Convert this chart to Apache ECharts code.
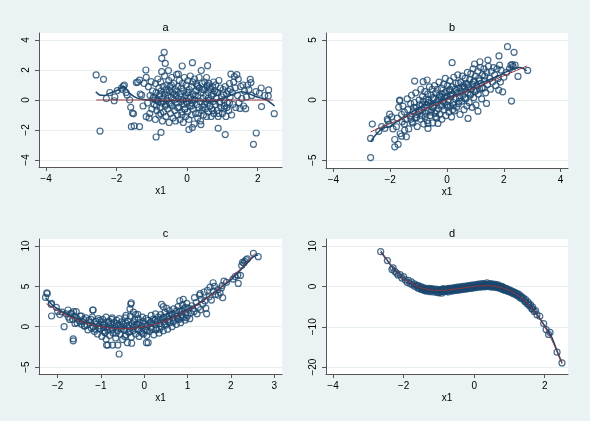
<!DOCTYPE html>
<html>
<head>
<meta charset="utf-8">
<script src="https://cdn.jsdelivr.net/npm/echarts@6/dist/echarts.min.js"></script>
<style>
  html, body { margin: 0; padding: 0; background: #eaf2f3; }
  #chart { width: 590px; height: 421px; }
</style>
</head>
<body>
<div id="chart"></div>
<script>
// ---- panel a : y unrelated to x1 ----
const aPoints = [
  [-2.58,1.67],[-2.37,1.38],[-2.47,-2.07],[-2.29,0.1],[-2.19,0.5],[-2.07,-0.05],[-2.05,0.2],[-1.98,0.63],[-1.86,0.8],[-1.81,0.93],
  [-1.78,1.0],[-1.84,0.7],[-1.70,0.33],[-1.73,0.5],[-1.63,0.0],[-1.60,-0.49],[-1.55,-0.87],[-1.52,-0.92],[-1.58,-1.78],[-1.50,-1.73],
  [-1.35,-1.78],[-1.44,1.16],[-1.35,1.33],[-1.40,1.2],[-1.29,0.33],[-1.33,0.4],[-1.25,-0.4],[-1.17,2.0],[-1.16,1.51],[-1.22,1.1],
  [-1.1,0.89],[-1.16,-1.11],[-1.08,-1.2],[-1.02,1.22],[-1.05,0.3],[-1.12,-0.2],[-1.0,-0.6],[-1.06,-0.9],[-0.98,0.6],[-0.88,-2.47],
  [-0.74,-2.16],[-0.65,3.18],[-0.72,2.78],[-0.62,2.44],[-0.72,1.89],[-0.53,1.96],
  [-0.95,0.2],[-0.93,-0.3],[-0.9,1.1],[-0.9,-1.3],[-0.88,0.5],[-0.86,-0.7],[-0.85,0.0],[-0.83,1.4],[-0.82,-0.1],[-0.8,0.8],
  [-0.8,-1.0],[-0.78,0.3],[-0.76,-0.5],[-0.75,1.2],[-0.74,0.6],[-0.72,-0.2],[-0.7,-1.4],[-0.7,0.1],[-0.68,0.9],[-0.67,-0.8],
  [-0.65,0.4],[-0.64,1.6],[-0.62,-0.4],[-0.6,0.7],[-0.6,-1.1],[-0.58,0.0],[-0.57,1.0],[-0.55,-0.6],[-0.54,0.3],[-0.52,1.3],
  [-0.51,-1.5],[-0.5,-0.2],[-0.5,0.6],
  [-0.48,0.9],[-0.47,-0.9],[-0.45,0.2],[-0.44,1.5],[-0.42,-0.4],[-0.41,0.5],[-0.4,-1.2],[-0.38,1.1],[-0.37,0.0],[-0.35,-0.7],
  [-0.34,0.7],[-0.33,-1.4],[-0.31,0.3],[-0.3,1.7],[-0.29,-0.2],[-0.27,-1.0],[-0.26,0.9],[-0.25,0.1],[-0.23,-0.5],[-0.22,1.3],
  [-0.2,-1.3],[-0.19,0.4],[-0.18,-0.1],[-0.16,0.8],[-0.15,-0.8],[-0.14,1.1],[-0.12,0.0],[-0.11,-1.5],[-0.1,0.6],[-0.09,-0.3],
  [-0.08,1.5],[-0.06,-0.6],[-0.05,0.3],[-0.04,-1.1],[-0.03,1.0],[-0.02,-0.1],[-0.01,0.5],
  [0.01,-0.8],[0.02,1.3],[0.04,0.1],[0.05,-1.3],[0.06,0.7],[0.08,-0.4],[0.09,1.6],[0.1,0.2],[0.12,-1.0],[0.13,0.9],
  [0.14,-0.2],[0.16,1.2],[0.17,-0.6],[0.18,0.4],[0.2,-1.6],[0.21,1.4],[0.22,0.0],[0.24,-0.9],[0.25,0.6],[0.27,-0.3],
  [0.28,1.0],[0.3,-1.2],[0.31,0.3],[0.33,-0.5],[0.34,1.5],[0.35,0.8],[0.37,-0.1],[0.38,-1.4],[0.4,0.5],[0.42,-0.7],
  [0.43,1.1],[0.45,0.1],[0.46,-1.0],[0.48,0.7],[0.49,-0.3],
  [0.5,1.2],[0.52,-0.6],[0.53,0.3],[0.55,-1.1],[0.56,0.9],[0.57,1.0],[0.58,-0.2],[0.6,0.5],[0.61,-0.8],[0.62,1.1],
  [0.63,0.0],[0.65,-0.4],[0.66,0.7],[0.68,-1.1],[0.69,0.3],[0.7,-0.6],[0.72,0.9],[0.73,-0.1],[0.75,0.4],[0.76,-0.9],
  [0.78,0.6],[0.8,-0.3],[0.81,1.0],[0.83,0.1],[0.85,-0.7],[0.87,0.5],[0.88,-1.1],[0.9,1.3],[0.92,-0.2],[0.94,0.8],
  [0.96,-0.5],[0.98,0.2],
  [1.0,-0.9],[1.02,0.7],[1.04,0.0],[1.06,-0.4],[1.08,0.9],[1.1,-1.1],[1.12,0.4],[1.14,-0.2],[1.16,0.6],[1.18,-0.7],
  [1.2,1.1],[1.22,0.2],[1.24,1.73],[1.26,-1.0],[1.28,0.5],[1.3,-0.3],[1.32,1.2],[1.34,1.56],[1.36,0.8],[1.38,-0.5],
  [1.41,1.69],[1.43,0.3],[1.45,1.4],[1.47,-0.2],[1.5,-0.56],[1.52,0.9],[1.55,0.1],[1.58,1.0],[1.6,-0.4],[1.63,0.6],
  [1.66,-0.58],[1.68,0.2],[1.72,1.0],[1.75,0.7],[1.79,1.38],[1.81,1.16],[1.83,0.3],
  [1.95,0.56],[2.10,0.8],[2.31,0.67],[2.11,-0.44],[2.30,0.27],[2.47,-0.91],[1.88,-2.96],[1.96,-2.2],[2.05,0.45],[2.2,0.3],
  [-0.14,2.27],[0.15,2.49],[0.40,1.96],[0.58,2.29],[-0.25,1.73],[0.05,-1.97],[0.15,-1.84],[0.39,-1.64],[0.88,-1.89],[1.08,-2.31],
  [-0.97,0.1],[-0.87,-0.4],[-0.77,0.4],[-0.67,-0.1],[-0.57,0.5],[-0.47,-0.3],[-0.37,0.4],[-0.27,-0.5],[-0.17,0.2],[-0.07,-0.6],
  [0.03,0.5],[0.13,-0.4],[0.23,0.3],[0.33,-0.9],[0.43,0.7],[0.53,-0.1],[0.63,0.8],[0.73,-0.7],[0.83,0.5],[0.93,-0.1],
  [1.03,0.4],[1.13,-0.5],[1.23,0.7],[-0.9,0.0],[-0.6,-0.3],[-0.3,0.6],[0.0,-0.2],[0.3,0.9],[0.6,0.1],[0.9,-0.9],
  [1.2,-0.2],[-0.45,1.0],[-0.15,-1.0],[0.15,0.0],[0.45,-0.5],[0.75,1.2],[1.05,-0.6],[-0.75,-0.9],[0.55,1.5],[0.25,1.1]
];
const aLowess = [
  [-2.59,0.55],[-2.48,0.33],[-2.35,0.3],[-2.2,0.44],[-1.96,0.67],[-1.79,0.89],[-1.63,0.44],[-1.4,0.11],[-1.11,0.0],
  [-0.77,-0.07],[-0.4,-0.05],[0.0,-0.1],[0.3,-0.05],[0.64,-0.1],[1.02,0.11],[1.35,0.44],[1.54,0.55],[1.73,0.44],
  [1.96,0.22],[2.25,0.0],[2.48,-0.4]
];
const aTrue = [[-2.58,0],[2.44,0]];
const aXTicks = [-4,-2,0,2];
const aYTicks = [-4,-2,0,2,4];

// ---- panel b : linear ----
const bPoints = [
  [-2.69,-4.78],[-2.69,-3.19],[-2.63,-2.0],[-2.19,-2.36],[-2.04,-2.0],[-1.84,-3.89],[-1.72,-3.69],[-1.84,-3.28],[-1.66,0.0],
  [-1.14,1.58],[-0.84,1.53],[-0.70,1.67],[0.18,3.11],[0.74,-1.53],[1.09,-0.92],[1.39,-0.28],[2.13,4.44],[2.36,3.97],
  [1.83,3.67],[1.44,3.33],[1.16,3.19],[0.97,3.0],[2.27,-0.08],[2.5,1.97],[2.84,2.47],[2.33,2.78],[1.82,0.83],[1.96,0.69],
  [2.25,2.9],[2.3,2.95],[2.2,2.6],[2.1,2.3],[2.0,1.9],[1.9,2.5],[2.4,2.9],
  [-2.02,-1.17],[-2.08,-1.72],[-1.78,-2.22],[-1.49,-2.5],[-1.43,-3.06],[-1.67,-0.06],[-1.23,-1.81],[-1.07,-1.44],
  [-0.67,-1.94],[-0.67,-2.36],[-0.32,-1.94],
  [-2.4,-2.6],[-2.3,-2.2],[-2.1,-1.6],[-1.95,-1.4],[-1.9,-2.4],[-1.75,-1.5],[-1.7,-0.6],[-1.65,-2.8],[-1.6,-3.0],[-1.58,-1.8],
  [-1.6,-1.2],[-1.55,-0.5],[-1.5,-2.0],[-1.5,-1.0],[-1.45,-1.6],[-1.4,0.1],[-1.38,-0.8],[-1.35,-2.4],[-1.3,-1.3],[-1.28,-0.3],
  [-1.25,0.4],[-1.2,-1.9],[-1.18,-0.9],[-1.15,-0.2],[-1.12,-1.5],[-1.1,0.6],[-1.08,-0.6],[-1.05,-2.2],[-1.0,-1.0],[-0.98,0.0],
  [-0.96,-0.4],[-0.94,-1.6],[-0.92,0.9],[-0.9,-0.8],[-0.88,-1.3],[-0.86,0.3],[-0.84,-0.1],[-0.82,-2.0],[-0.8,-0.6],[-0.78,0.7],
  [-0.76,-1.1],[-0.74,0.1],[-0.72,-0.4],[-0.7,-1.7],[-0.68,0.5],[-0.66,-0.9],[-0.64,0.0],[-0.62,1.1],[-0.6,-1.3],[-0.58,-0.3],
  [-0.56,0.4],[-0.54,-0.8],[-0.52,0.9],[-0.5,-1.9],[-0.48,0.2],[-0.46,-0.5],[-0.44,1.2],[-0.42,-1.1],[-0.4,0.6],[-0.38,-0.2],
  [-0.36,-1.5],[-0.34,0.9],[-0.32,0.0],[-0.3,-0.7],[-0.28,1.5],[-0.26,-1.2],[-0.24,0.3],[-0.22,-0.4],[-0.2,1.0],[-0.18,-1.6],
  [-0.16,0.5],[-0.14,-0.1],[-0.12,1.3],[-0.1,-0.8],[-0.08,0.2],[-0.06,1.8],[-0.04,-1.3],[-0.02,0.7],[0.0,-0.4],[0.02,1.2],
  [0.04,0.0],[0.06,-1.0],[0.08,0.8],[0.1,1.6],[0.12,-0.5],[0.14,0.3],[0.16,-1.4],[0.18,1.1],[0.2,0.5],[0.22,-0.2],
  [0.24,1.9],[0.26,-0.9],[0.28,0.9],[0.3,0.1],[0.32,1.4],[0.34,-0.6],[0.36,0.6],[0.38,2.1],[0.4,-0.3],[0.42,1.0],
  [0.44,0.2],[0.46,-1.2],[0.48,1.5],[0.5,0.7],[0.52,-0.1],[0.54,2.0],[0.56,0.4],[0.58,1.2],[0.6,-0.8],[0.62,0.9],
  [0.64,1.8],[0.66,0.1],[0.68,1.4],[0.7,-0.5],[0.72,2.3],[0.74,0.6],[0.76,1.1],[0.78,-0.2],[0.8,1.7],[0.82,0.4],
  [0.84,2.2],[0.86,0.9],[0.88,-0.6],[0.9,1.3],[0.92,2.6],[0.94,0.2],[0.96,1.6],[0.98,0.7],[1.0,2.0],[1.02,-0.4],
  [1.05,1.2],[1.08,2.4],[1.1,0.5],[1.12,1.8],[1.15,0.9],[1.18,2.7],[1.2,1.4],[1.22,0.1],[1.25,2.1],[1.28,1.0],
  [1.3,2.6],[1.33,1.6],[1.36,0.6],[1.4,2.3],[1.43,1.3],[1.46,2.8],[1.5,1.8],[1.53,0.9],[1.56,2.4],[1.6,1.5],
  [1.64,2.7],[1.68,2.1],[1.72,1.2],[1.76,2.6],[1.8,1.8],[1.85,2.9],[1.88,1.5],
  [-0.97,-0.9],[-0.87,-0.4],[-0.77,-1.4],[-0.67,-0.2],[-0.57,-1.0],[-0.47,0.1],[-0.37,-0.9],[-0.27,0.4],[-0.17,-0.5],[-0.07,0.6],
  [0.03,-0.6],[0.13,0.4],[0.23,-0.4],[0.33,0.8],[0.43,-0.1],[0.53,1.0],[0.63,0.2],[0.73,1.3],[0.83,0.5],[0.93,1.5],
  [1.03,0.8],[1.13,1.6],[1.23,1.0],[1.33,2.0],[-1.27,-1.6],[-1.17,-0.6],[-1.07,-1.2],[-0.5,-0.6],[-0.2,0.2],[0.0,0.3],
  [0.2,-0.8],[0.4,1.4],[0.6,1.1],[-0.4,-1.4],[-0.1,-0.2],[0.1,0.9]
];
const bLowess = [
  [-2.69,-3.47],[-2.55,-3.0],[-2.25,-2.31],[-2.02,-2.22],[-1.78,-1.81],[-1.49,-1.44],[-1.14,-0.83],[-0.79,-0.42],
  [-0.32,-0.14],[0.1,0.28],[0.58,0.61],[1.16,1.39],[1.75,1.94],[2.22,2.5],[2.57,2.72],[2.81,2.44]
];
const bTrue = [[-2.69,-2.64],[2.81,2.83]];
const bXTicks = [-4,-2,0,2,4];
const bYTicks = [-5,0,5];

// ---- panel c : quadratic ----
const cPoints = [
  [-2.25,4.21],[-2.28,3.63],[-2.14,2.9],[-2.14,1.33],[-2.03,2.4],[-1.85,0.0],[-1.64,-1.5],[-1.64,-1.75],[-1.63,1.86],
  [-1.57,1.86],[-1.19,2.07],[-0.58,-3.38],[-0.73,-2.27],[-0.61,-2.27],[-0.87,-2.27],[-0.31,2.81],[-0.33,2.19],[-0.29,-2.05],
  [0.05,-1.98],[0.40,2.77],[0.44,2.48],[0.52,2.27],[0.9,3.39],[0.82,3.22],[1.44,1.6],[1.16,3.6],[1.29,4.1],[1.59,5.45],
  [1.84,5.66],[1.81,3.6],[1.71,3.9],[2.16,6.4],[2.17,5.37],[2.22,6.36],[2.27,7.98],[2.35,8.3],[2.38,8.4],[2.52,9.09],[2.63,8.68],
  [-2.24,4.1],[-2.15,2.77],[-1.9,1.82],[-1.76,2.07],[-1.68,1.7],[-1.61,1.33],[-1.45,1.33],[-1.38,0.08],[-1.42,0.6],[-1.55,0.46],
  [-1.18,2.07],[-0.91,-0.74],[-0.88,-1.56],[-0.84,-2.27],[-0.39,-1.98],[-0.3,2.97],[-0.42,1.4],[-0.15,1.54],[0.09,-1.98],
  [-2.0,1.9],[-1.95,1.5],[-1.8,1.6],[-1.75,1.2],[-1.72,0.9],[-1.7,1.6],[-1.65,0.9],[-1.6,0.4],[-1.55,1.0],[-1.5,0.7],
  [-1.48,1.3],[-1.45,0.3],[-1.4,0.9],[-1.38,0.1],[-0.25,1.8],[-0.2,1.5],
  [-1.35,1.1],[-1.32,0.2],[-1.3,-0.4],[-1.28,0.8],[-1.25,0.5],[-1.22,-0.2],[-1.2,1.2],[-1.18,0.0],[-1.15,-0.6],[-1.12,0.7],
  [-1.1,0.3],[-1.08,-0.9],[-1.06,1.0],[-1.04,0.1],[-1.02,-0.3],[-1.0,0.6],[-0.98,-1.2],[-0.96,0.9],[-0.94,-0.1],[-0.92,0.4],
  [-0.9,-0.7],[-0.88,1.2],[-0.86,0.0],[-0.84,-0.4],[-0.82,0.7],[-0.8,-1.1],[-0.78,0.3],[-0.76,-0.2],[-0.74,1.1],[-0.72,-0.8],
  [-0.7,0.5],[-0.68,0.0],[-0.66,-1.4],[-0.64,0.8],[-0.62,-0.5],[-0.6,0.2],[-0.58,1.0],[-0.56,-0.9],[-0.54,-0.1],[-0.52,0.6],
  [-0.5,-1.6],[-0.48,0.3],[-0.46,-0.4],[-0.44,1.1],[-0.42,-1.0],[-0.4,0.1],[-0.38,0.7],[-0.36,-0.7],[-0.34,-0.2],[-0.32,1.3],
  [-0.3,-1.3],[-0.28,0.4],[-0.26,-0.5],[-0.24,0.0],[-0.22,0.9],[-0.2,-0.9],[-0.18,0.3],[-0.16,-0.3],[-0.14,1.0],[-0.12,-1.2],
  [-0.1,0.5],[-0.08,-0.6],[-0.06,0.1],[-0.04,1.2],[-0.02,-0.9],[0.0,0.4],[0.02,-0.4],[0.04,1.0],[0.06,-1.1],[0.08,0.2],
  [0.1,0.8],[0.12,-0.6],[0.14,0.5],[0.16,1.4],[0.18,-0.3],[0.2,0.9],[0.22,-1.0],[0.24,0.3],[0.26,1.6],[0.28,-0.2],
  [0.3,0.7],[0.32,1.2],[0.34,-0.8],[0.36,0.4],[0.38,1.5],[0.4,0.0],[0.42,1.0],[0.44,-0.5],[0.46,0.6],[0.48,1.8],
  [0.5,0.2],[0.52,1.2],[0.54,-0.3],[0.56,0.9],[0.58,2.0],[0.6,0.5],[0.62,1.5],[0.64,0.0],[0.66,1.1],[0.68,2.2],
  [0.7,0.8],[0.72,1.7],[0.74,0.3],[0.76,1.3],[0.78,2.5],[0.8,0.9],[0.82,1.9],[0.84,0.5],[0.86,1.5],[0.88,2.7],
  [0.9,1.2],[0.92,2.2],[0.94,0.8],[0.96,1.7],[0.98,2.9],[1.0,1.4],[1.02,2.3],[1.05,1.0],[1.1,2.6],[1.15,1.9],
  [1.2,3.0],[1.25,2.4],[1.28,3.9],[1.3,2.1],[1.32,3.4],[1.35,2.8],[1.38,4.3],[1.4,3.2],[1.42,2.3],[1.46,4.5],
  [1.5,3.7],[1.52,4.9],[1.55,3.3],[1.6,4.4],[1.62,5.0],[1.65,4.0],[1.7,4.6],[1.75,4.2],[1.78,4.8],[1.8,5.1],
  [1.9,5.5],[2.05,5.9],[2.1,6.2],[2.3,7.9],[2.32,8.1],[2.25,7.6],
  [-1.23,0.9],[-1.13,-0.3],[-1.03,0.8],[-0.93,-0.5],[-0.83,0.5],[-0.73,-0.4],[-0.63,0.4],[-0.53,-0.3],[-0.43,0.5],[-0.33,-0.6],
  [-0.23,0.6],[-0.13,-0.4],[-0.03,0.7],[0.07,-0.5],[0.17,0.5],[0.27,-0.4],[0.37,0.9],[0.47,0.3],[0.57,1.4],[0.67,0.6],
  [0.77,1.0],[0.87,2.0],[0.97,1.1],[1.07,1.7],[-0.95,0.2],[-0.75,0.9],[-0.55,0.1],[-0.35,0.2],[-0.15,0.3],[0.05,0.0],
  [0.25,0.8],[0.45,1.2],[0.65,1.6],[0.85,1.1],[-1.05,-0.2],[-0.65,-0.8],[-0.45,-1.2],[-0.05,-0.8],[0.15,-0.1],[0.35,-0.3],
  [0.55,0.6],[0.75,2.0],[0.95,2.4],[1.12,2.2],[1.22,1.6]
];
const cLowess = [
  [-2.28,3.6],[-2.1,2.6],[-1.9,1.9],[-1.6,1.1],[-1.3,0.45],[-1.0,0.1],[-0.75,-0.1],[-0.5,-0.2],[-0.25,-0.15],[0,0.0],
  [0.25,0.35],[0.5,0.8],[0.75,1.4],[1.0,2.1],[1.25,2.9],[1.5,3.8],[1.75,4.8],[2.0,5.8],[2.25,7.2],[2.5,8.6],[2.63,8.9]
];
const cTrue = [
  [-2.26,2.85],[-2.0,2.0],[-1.75,1.31],[-1.5,0.75],[-1.25,0.31],[-1.0,0],[-0.75,-0.19],[-0.5,-0.25],[-0.25,-0.19],[0,0],
  [0.25,0.31],[0.5,0.75],[0.75,1.31],[1.0,2.0],[1.25,2.81],[1.5,3.75],[1.75,4.81],[2.0,6.0],[2.25,7.31],[2.56,9.11]
];
const cXTicks = [-2,-1,0,1,2,3];
const cYTicks = [-5,0,5,10];

// ---- panel d : cubic ----
const dPoints = [
  [-2.65,8.6],[-2.46,6.4],[-2.33,4.2],[-2.3,4.6],[-2.25,3.7],[-2.2,3.3],[-2.16,2.8],[-2.1,2.9],[-2.05,2.1],[-2.0,2.4],
  [-1.95,1.6],[-1.9,1.0],[-1.86,1.5],[-1.82,0.7],[-1.78,1.1],[-1.75,0.4],[-1.7,0.6],[-1.68,0.0],[-1.64,0.3],[-1.6,-0.4],
  [-1.58,0.2],[-1.55,-0.6],[-1.52,-0.1],[-1.5,-0.7],[-1.48,-0.2],[-1.45,-0.9],[-1.42,-0.4],[-1.4,-1.0],[-1.38,-0.5],[-1.35,-1.2],
  [-1.32,-0.6],[-1.3,-1.0],[-1.28,-0.5],[-1.25,-1.3],[-1.22,-0.7],[-1.2,-1.1],[-1.18,-0.6],[-1.15,-1.4],[-1.12,-0.8],[-1.1,-1.2],
  [-1.08,-0.7],[-1.05,-1.5],[-1.02,-1.0],[-1.0,-1.6],[-0.98,-0.8],[-0.96,-1.3],[-0.94,-0.9],[-0.92,-1.7],[-0.9,-1.1],[-0.88,-0.6],
  [-0.86,-1.3],[-0.84,-0.8],[-0.82,-1.2],[-0.8,-0.6],[-0.78,-1.1],[-0.76,-0.9],[-0.74,-1.4],[-0.72,-0.5],[-0.7,-1.0],[-0.68,-0.7],
  [-0.66,-1.2],[-0.64,-0.4],[-0.62,-0.9],[-0.6,-0.6],[-0.58,-1.1],[-0.56,-0.3],[-0.54,-0.8],[-0.52,-0.5],[-0.5,-1.0],[-0.48,-0.2],
  [-0.46,-0.7],[-0.44,-0.4],[-0.42,-0.9],[-0.4,-0.1],[-0.38,-0.6],[-0.36,-0.3],[-0.34,-0.8],[-0.32,0.0],[-0.3,-0.5],[-0.28,-0.2],
  [-0.26,-0.7],[-0.24,0.1],[-0.22,-0.4],[-0.2,-0.1],[-0.18,-0.6],[-0.16,0.2],[-0.14,-0.3],[-0.12,0.0],[-0.1,-0.5],[-0.08,0.3],
  [-0.06,-0.2],[-0.04,0.1],[-0.02,-0.4],[0.0,0.4],[0.02,-0.1],[0.04,0.2],[0.06,-0.3],[0.08,0.5],[0.1,0.0],[0.12,0.3],
  [0.14,-0.2],[0.16,0.6],[0.18,0.1],[0.2,0.4],[0.22,-0.1],[0.24,0.7],[0.26,0.2],[0.28,0.5],[0.3,-0.1],[0.32,0.6],
  [0.34,0.2],[0.36,0.9],[0.38,0.0],[0.4,0.5],[0.42,0.2],[0.44,0.7],[0.46,-0.1],[0.48,0.4],[0.5,0.1],[0.52,0.6],
  [0.54,-0.2],[0.56,0.3],[0.58,0.0],[0.6,0.5],[0.62,-0.3],[0.64,0.2],[0.66,-0.1],[0.68,0.4],[0.7,-0.4],[0.72,0.1],
  [0.74,-0.2],[0.76,-0.6],[0.78,0.0],[0.8,-0.4],[0.82,-0.8],[0.84,-0.3],[0.86,-0.7],[0.88,-1.0],[0.9,-0.5],[0.92,-0.9],
  [0.95,-1.2],[0.98,-0.8],[1.0,-1.3],[1.03,-1.0],[1.06,-1.6],[1.09,-1.2],[1.12,-1.8],[1.15,-1.5],[1.18,-2.1],[1.21,-1.7],
  [1.24,-2.4],[1.27,-2.0],[1.3,-2.8],[1.33,-2.4],[1.36,-3.1],[1.4,-2.9],[1.43,-3.6],[1.46,-3.3],[1.5,-4.3],[1.53,-3.9],
  [1.56,-4.8],[1.6,-4.6],[1.63,-5.5],[1.66,-5.1],[1.7,-6.2],[1.74,-6.0],[1.78,-7.0],[1.86,-7.4],[1.97,-9.2],[2.04,-10.7],
  [2.11,-11.9],[2.15,-11.4],[2.35,-16.3],[2.49,-18.95],
  [-1.61,0.1],[-1.47,-0.6],[-1.33,-0.9],[-1.19,-0.8],[-1.07,-1.1],[-0.97,-1.2],[-0.87,-0.9],[-0.77,-1.0],[-0.67,-0.9],[-0.57,-0.6],
  [-0.47,-0.5],[-0.37,-0.4],[-0.27,-0.4],[-0.17,-0.1],[-0.07,-0.1],[0.03,0.1],[0.13,0.2],[0.23,0.1],[0.33,0.3],[0.43,0.3],
  [0.53,0.2],[0.63,0.1],[0.73,-0.2],[0.83,-0.5],[0.93,-0.6],[1.04,-1.3],[1.14,-1.6],[1.25,-2.2],[1.35,-2.8],[1.45,-3.8],
  [1.55,-4.4],[1.65,-5.6],[-1.0,-0.9],[-0.9,-0.7],[-0.8,-1.2],[-0.6,-0.9],[-0.4,-0.7],[-0.2,-0.4],[0.0,-0.2],[0.2,0.0],
  [0.4,0.0],[0.6,0.2],[0.8,-0.1],[-1.2,-0.7],[-1.4,-0.8],[0.3,0.4],[0.5,0.4],[-0.5,-0.5],[-0.7,-0.6],[0.1,0.2],[0.7,-0.1]
];
const dLowess = [
  [-2.65,8.6],[-2.46,6.4],[-2.25,4.0],[-2.0,2.1],[-1.75,0.5],[-1.5,-0.45],[-1.25,-0.9],[-1.0,-1.05],[-0.75,-0.85],
  [-0.5,-0.55],[-0.25,-0.25],[0,0.05],[0.25,0.2],[0.5,0.15],[0.75,-0.2],[1.0,-1.0],[1.25,-2.2],[1.5,-4.1],[1.75,-6.5],
  [2.0,-9.8],[2.2,-12.6],[2.35,-16.0],[2.49,-18.95]
];
const dTrue = [
  [-2.65,8.94],[-2.5,6.9],[-2.25,4.08],[-2.0,2.0],[-1.75,0.55],[-1.5,-0.38],[-1.25,-0.86],[-1.0,-1.0],[-0.75,-0.89],
  [-0.5,-0.63],[-0.25,-0.3],[0,0],[0.25,0.17],[0.5,0.13],[0.75,-0.23],[1.0,-1.0],[1.25,-2.27],[1.5,-4.13],[1.75,-6.67],
  [2.0,-10.0],[2.25,-14.2],[2.49,-19.15]
];
const dXTicks = [-4,-2,0,2];
const dYTicks = [-20,-10,0,10];

const panels = [
  { name: 'a', pts: aPoints, fit: aLowess, truth: aTrue, xt: aXTicks, yt: aYTicks,
    x: [-4.2, 2.69], y: [-4.47, 4.47], box: { left: 39, top: 33, width: 243, height: 134 } },
  { name: 'b', pts: bPoints, fit: bLowess, truth: bTrue, xt: bXTicks, yt: bYTicks,
    x: [-4.26, 4.26], y: [-5.65, 5.58], box: { left: 326, top: 33, width: 242, height: 135 } },
  { name: 'c', pts: cPoints, fit: cLowess, truth: cTrue, xt: cXTicks, yt: cYTicks,
    x: [-2.43, 3.18], y: [-5.86, 10.87], box: { left: 39, top: 239, width: 243, height: 135 } },
  { name: 'd', pts: dPoints, fit: dLowess, truth: dTrue, xt: dXTicks, yt: dYTicks,
    x: [-4.2, 2.66], y: [-21.7, 11.74], box: { left: 326, top: 239, width: 242, height: 135 } }
];

const navy = '#1a476f';
const maroon = '#90353b';
const font = 'Liberation Sans, Arial, sans-serif';
const minus = v => String(v).replace('-', '\u2212');

const grid = [], xAxis = [], yAxis = [], series = [], title = [];
panels.forEach((p, i) => {
  grid.push(Object.assign({ show: true, backgroundColor: '#ffffff', borderWidth: 0 }, p.box));
  title.push({
    text: p.name, left: p.box.left + p.box.width / 2, top: p.box.top - 16, textAlign: 'center',
    textStyle: { fontFamily: font, fontSize: 11, fontWeight: 'normal', color: '#000' }
  });
  xAxis.push({
    gridIndex: i, type: 'value', min: p.x[0], max: p.x[1],
    name: 'x1', nameLocation: 'middle', nameGap: 19,
    nameTextStyle: { fontFamily: font, fontSize: 10, color: '#000' },
    axisLine: { show: true, onZero: false, lineStyle: { color: '#555', width: 1 } },
    axisTick: { show: true, length: 4, customValues: p.xt, lineStyle: { color: '#555' } },
    axisLabel: { customValues: p.xt, formatter: minus, margin: 7, fontFamily: font, fontSize: 10, color: '#000' },
    splitLine: { show: false }
  });
  yAxis.push({
    gridIndex: i, type: 'value', min: p.y[0], max: p.y[1],
    axisLine: { show: true, onZero: false, lineStyle: { color: '#555', width: 1 } },
    axisTick: { show: true, length: 4, customValues: p.yt, lineStyle: { color: '#555' } },
    axisLabel: { customValues: p.yt, formatter: minus, rotate: 90, margin: 8, fontFamily: font, fontSize: 10, color: '#000' },
    splitLine: { show: true, lineStyle: { color: '#e6eef0', width: 1 } }
  });
  series.push({
    type: 'scatter', xAxisIndex: i, yAxisIndex: i, data: p.pts, symbol: 'circle', symbolSize: 6, z: 2,
    itemStyle: { color: 'rgba(0,0,0,0)', borderColor: navy, borderWidth: 1.2 }
  });
  series.push({
    type: 'line', xAxisIndex: i, yAxisIndex: i, data: p.fit, showSymbol: false, smooth: 0.3, z: 3,
    lineStyle: { color: navy, width: 1.5 }
  });
  series.push({
    type: 'line', xAxisIndex: i, yAxisIndex: i, data: p.truth, showSymbol: false, smooth: 0.3, z: 4,
    lineStyle: { color: maroon, width: 1 }
  });
});

const chart = echarts.init(document.getElementById('chart'));
chart.setOption({
  backgroundColor: '#eaf2f3',
  animation: false,
  title: title,
  grid: grid,
  xAxis: xAxis,
  yAxis: yAxis,
  series: series
});
</script>
</body>
</html>
